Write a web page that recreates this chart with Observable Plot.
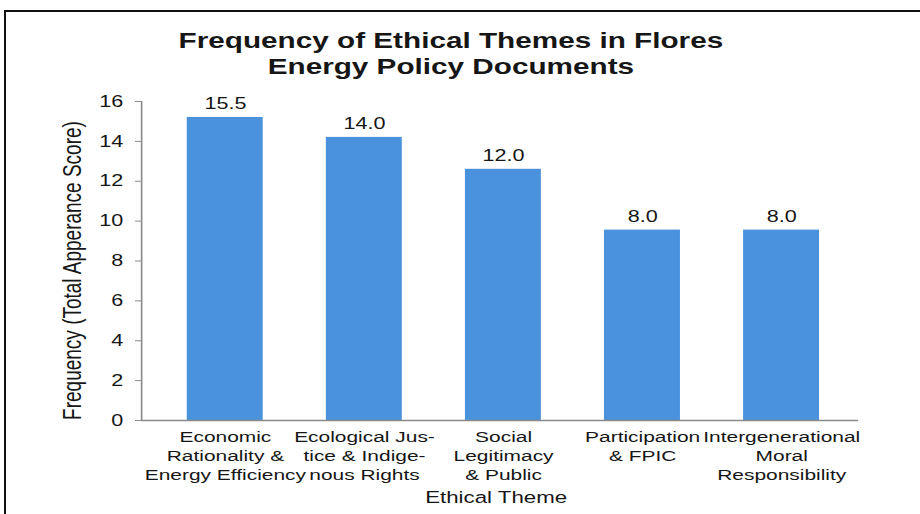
<!DOCTYPE html>
<html><head><meta charset="utf-8">
<script src="https://cdn.jsdelivr.net/npm/d3@7"></script>
<script src="https://cdn.jsdelivr.net/npm/@observablehq/plot@0.6"></script>
<style>
html,body{margin:0;padding:0;background:#fff;width:920px;height:514px;overflow:hidden;}
#border{position:absolute;left:4px;top:10px;width:1000px;height:600px;border:2px solid #111;box-sizing:border-box;}
#chart{position:absolute;left:0;top:0;width:681.5px;height:514px;transform:scaleX(1.35);transform-origin:0 0;font-family:"Liberation Sans",Arial,sans-serif;color:#161616;}
#title{position:absolute;left:0;top:28px;width:668px;text-align:center;font-weight:bold;font-size:22px;line-height:26px;}
#plot{position:absolute;left:0;top:90px;}
</style></head><body>
<div id="border"></div>
<div id="chart"><div id="title">Frequency of Ethical Themes in Flores<br>Energy Policy Documents</div><div id="plot"></div></div>
<script>
const themes = [
  "Economic\nRationality &\nEnergy Efficiency",
  "Ecological Jus-\ntice & Indige-\nnous Rights",
  "Social\nLegitimacy\n& Public",
  "Participation\n& FPIC",
  "Intergenerational\nMoral\nResponsibility"
];
const barHeights = [15.2, 14.2, 12.6, 9.55, 9.55];
const valueLabels = ["15.5", "14.0", "12.0", "8.0", "8.0"];
const yTicks = [0, 2, 4, 6, 8, 10, 12, 14, 16];
const yLabel = "Frequency (Total Apperance Score)";
const xLabel = "Ethical Theme";

const data = themes.map((t, i) => ({theme: t, value: barHeights[i], label: valueLabels[i]}));
const font = '"Liberation Sans", Arial, sans-serif';
const ink = "#161616";
const plot = Plot.plot({
  width: 681.5, height: 424,
  marginLeft: 104.4, marginRight: 45.9, marginTop: 11, marginBottom: 94,
  style: {fontFamily: font, fontSize: "16px", color: ink, background: "transparent", overflow: "visible"},
  x: {domain: themes, paddingInner: 0.454, paddingOuter: 0.305, align: 0.54, round: false, label: null},
  y: {domain: [0, 16], label: null},
  marks: [
    Plot.barY(data, {x: "theme", y: "value", fill: "#4a92dc"}),
    Plot.ruleY([0], {stroke: "#8a8a8a", strokeWidth: 1.5}),
    Plot.frame({anchor: "left", stroke: "#8a8a8a", strokeWidth: 1.2}),
    Plot.axisY({ticks: yTicks, tickSize: 4.4, tickPadding: 9.2, stroke: "#8a8a8a", fill: ink, fontSize: 16, label: null, tickFormat: d => String(d)}),
    Plot.axisX({tickSize: 0, tickPadding: 8, lineHeight: 1.23, fontSize: 15.5, fill: ink, label: null}),
    Plot.text(data, {x: "theme", y: "value", text: "label", dy: -13.5, fontSize: 16, fill: ink}),
    Plot.text([yLabel], {text: d => d, frameAnchor: "left", textAnchor: "middle", lineAnchor: "middle", rotate: -90, dx: -51, dy: 9.5, fontSize: 19, fill: ink}),
    Plot.text([xLabel], {text: d => d, frameAnchor: "bottom", textAnchor: "middle", lineAnchor: "middle", dx: -3, dy: 77, fontSize: 16.5, fill: ink})
  ]
});
document.getElementById("plot").appendChild(plot);
</script>
</body></html>
